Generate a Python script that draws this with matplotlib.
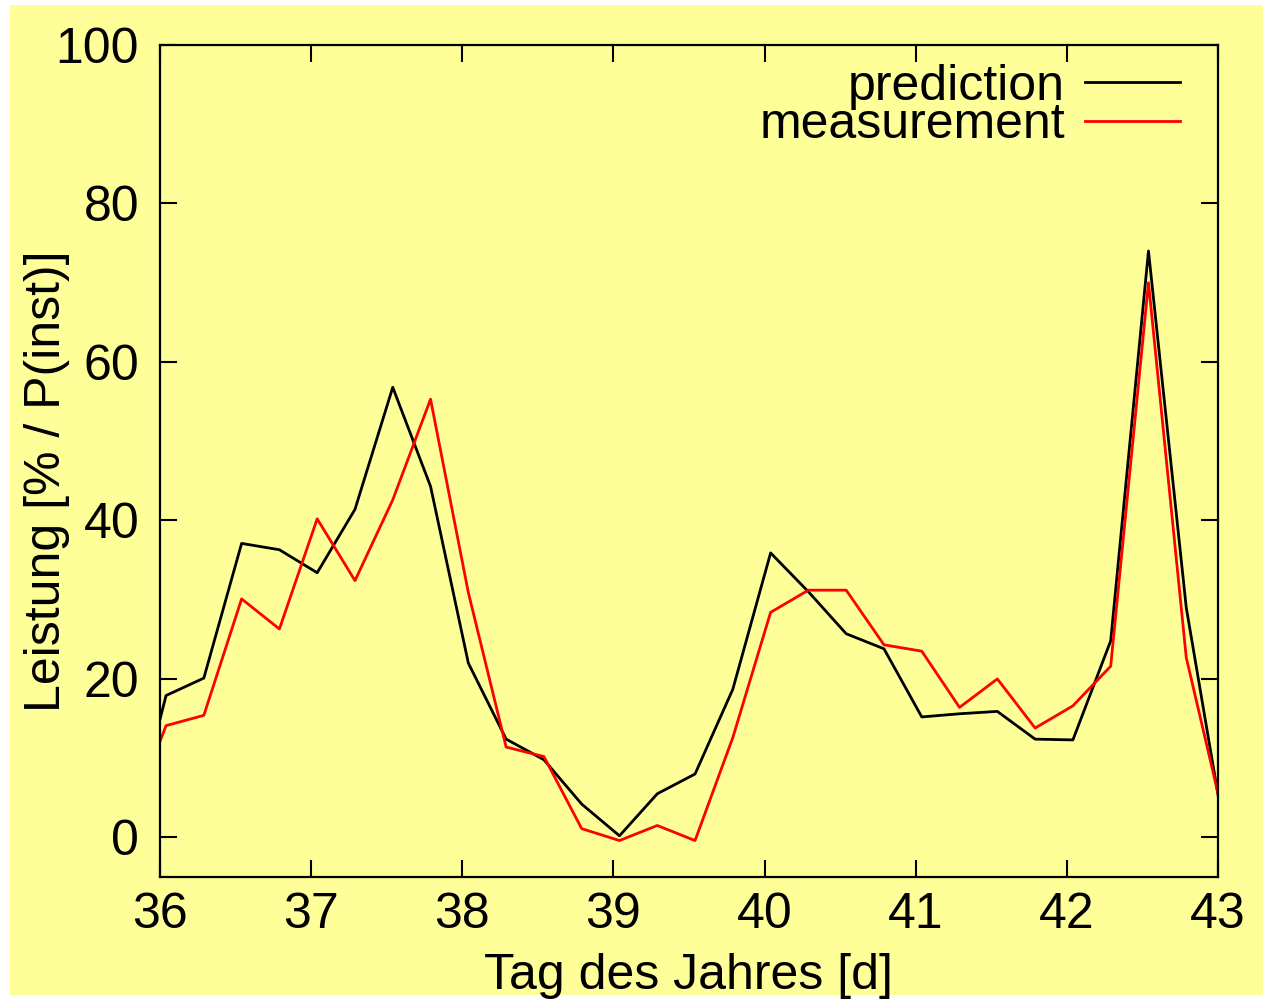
import matplotlib
matplotlib.use("Agg")
import matplotlib.pyplot as plt
from matplotlib.patches import Rectangle

plt.rcParams['font.family'] = ['Liberation Sans', 'DejaVu Sans']

# time in days of the year (6-hour steps)
days = [35.79, 36.04, 36.29, 36.54, 36.79, 37.04, 37.29, 37.54, 37.79, 38.04,
        38.29, 38.54, 38.79, 39.04, 39.29, 39.54, 39.79, 40.04, 40.29, 40.54,
        40.79, 41.04, 41.29, 41.54, 41.79, 42.04, 42.29, 42.54, 42.79, 43.04]

prediction = [-0.9, 17.9, 20.1, 37.1, 36.3, 33.4, 41.4, 56.8, 44.3, 22.0,
              12.4, 9.8, 4.2, 0.2, 5.5, 8.0, 18.7, 35.9, 31.0, 25.7,
              23.8, 15.2, 15.6, 15.9, 12.4, 12.3, 24.8, 74.0, 29.0, 0.9]

measurement = [1.6, 14.1, 15.4, 30.1, 26.3, 40.2, 32.4, 42.6, 55.3, 30.9,
               11.4, 10.2, 1.1, -0.4, 1.5, -0.4, 12.6, 28.4, 31.2, 31.2,
               24.3, 23.5, 16.4, 20.0, 13.8, 16.6, 21.6, 70.0, 22.7, 2.3]

xticks = [36, 37, 38, 39, 40, 41, 42, 43]
yticks = [0, 20, 40, 60, 80, 100]

BG = '#FFFF99'
FS = 36

fig = plt.figure(figsize=(12.63, 10.01), dpi=100, facecolor='white')
fig.patches.append(Rectangle((10 / 1263, 6 / 1001), 1 - 10 / 1263, 1 - 11 / 1001,
                             transform=fig.transFigure, facecolor=BG,
                             edgecolor='none', zorder=-10))
ax = fig.add_axes([160 / 1263, 1 - 877 / 1001, (1218 - 160) / 1263, (877 - 45) / 1001])
ax.set_facecolor(BG)

ax.plot(days, prediction, color='black', lw=2.0, label='prediction')
ax.plot(days, measurement, color='#FF0000', lw=2.0, label='measurement')

ax.set_xlim(36, 43)
ax.set_ylim(-5, 100)
ax.set_xticks(xticks)
ax.set_yticks(yticks)
ax.tick_params(direction='in', length=12, width=1.5, top=True, right=True,
               labelsize=FS)
ax.tick_params(axis='x', pad=11)
ax.tick_params(axis='y', pad=15)
for s in ax.spines.values():
    s.set_linewidth(1.6)

ax.set_xlabel('Tag des Jahres [d]', fontsize=FS)
ax.set_ylabel('Leistung [% / P(inst)]', fontsize=FS)
ax.xaxis.set_label_coords(0.5, -0.091)
ax.yaxis.set_label_coords(-0.085, 0.476)

leg = ax.legend(loc='upper right', frameon=False, markerfirst=False,
                fontsize=FS, handlelength=1.9, handletextpad=0.4,
                labelspacing=-0.15, borderaxespad=0.0,
                bbox_to_anchor=(1 - 18 / 1058, 1 + 1 / 832))
for t in leg.get_texts():
    t.set_ha('right')

fig.savefig('out.png', dpi=100, facecolor=fig.get_facecolor())
